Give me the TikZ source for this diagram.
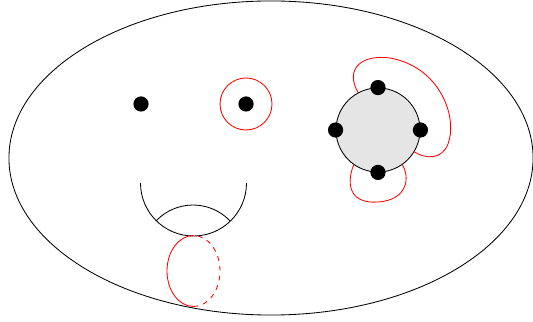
\documentclass[tikz,border=0pt]{standalone}
\usetikzlibrary{shapes.geometric}

\begin{document}
\begin{tikzpicture}[
    x=0.025cm, y=0.025cm, line width=0.6pt,
    surface/.style={ellipse, draw=black, minimum width=13.1cm, minimum height=7.85cm, inner sep=0pt},
    puncture/.style={circle, fill=black, minimum size=0.38cm, inner sep=0pt},
    boundary/.style={circle, draw=black, fill=gray!20, minimum size=2.1cm, inner sep=0pt},
    redloop/.style={draw=red},
    redhidden/.style={draw=red, dash pattern=on 3.5pt off 3.5pt},
]
\useasboundingbox (0,0) rectangle (533,322);

% Surface
\node[surface] (surf) at (271,164) {};

% Punctures
\node[puncture] (p1) at (141,218) {};
\node[puncture] (p2) at (246,218) {};
\draw[redloop] (p2) circle [radius=26];

% Boundary disk with marked points
\node[boundary] (disk) at (378,192) {};
\node[puncture] (m1) at (disk.north) {};
\node[puncture] (m2) at (disk.west) {};
\node[puncture] (m3) at (disk.east) {};
\node[puncture] (m4) at (disk.south) {};

% Arcs around the disk
\draw[redloop] (disk.118) .. controls (345,252) and (360,268) .. (390,264)
    .. controls (440,255) and (458,205) .. (448,178)
    .. controls (442,162) and (425,163) .. (disk.-31);
\draw[redloop] (disk.-125) .. controls (345,135) and (352,118) .. (378,120)
    .. controls (408,122) and (410,145) .. (disk.-55);

% Handle
\coordinate (hl) at (140.5,139);
\draw (hl) arc [start angle=180, end angle=360, radius=53];
\coordinate (hi) at (156,101);
\draw (hi) arc [start angle=136.6, end angle=43.4, radius=51];

% Meridian of the handle
\coordinate (mc) at (193.5,51);
\draw[redloop] ([yshift=35.5*0.025cm]mc) arc [start angle=90, end angle=270, x radius=26.5, y radius=35.5];
\draw[redhidden] ([yshift=-35.5*0.025cm]mc) arc [start angle=-90, end angle=90, x radius=26.5, y radius=35.5];

\end{tikzpicture}
\end{document}
